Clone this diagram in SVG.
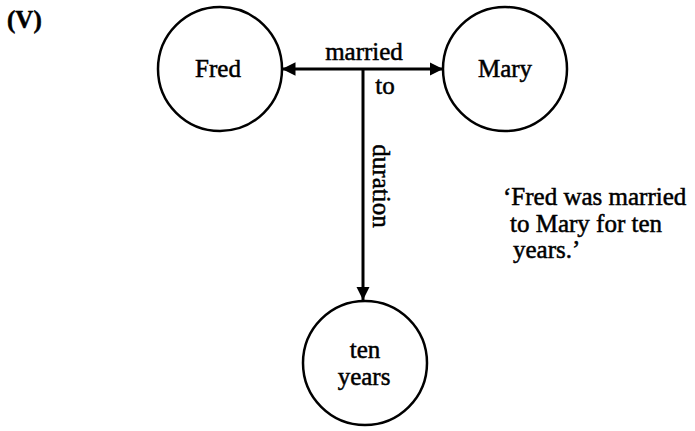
<svg xmlns="http://www.w3.org/2000/svg" width="695" height="431" viewBox="0 0 695 431">
<style>
.n{fill:none;stroke:#000;stroke-width:2.5}
.t{font-family:"Liberation Serif","Times New Roman",serif;font-size:25px;fill:#000;stroke:#000;stroke-width:0.5}
.c{stroke:#000;stroke-width:3;fill:none}
</style>
<defs>
<marker id="ah" viewBox="0 0 10 10" refX="10" refY="5" markerWidth="4.5" markerHeight="4.5" orient="auto-start-reverse" markerUnits="strokeWidth">
<path d="M0,0 L10,5 L0,10 z" fill="#000"/>
</marker>
</defs>
<rect width="695" height="431" fill="#fff"/>
<text class="t" x="7" y="28" font-weight="bold" font-size="23">(V)</text>
<g id="fred"><circle class="n" cx="220" cy="69" r="62"/><text class="t" x="218" y="77" text-anchor="middle">Fred</text></g>
<g id="mary"><circle class="n" cx="505" cy="69" r="62"/><text class="t" x="505" y="77" text-anchor="middle">Mary</text></g>
<g id="tenyears"><circle class="n" cx="365" cy="363" r="62"/><text class="t" x="365" y="358" text-anchor="middle">ten</text><text class="t" x="364" y="385" text-anchor="middle">years</text></g>
<g id="connectors">
<path class="c" d="M282,69 L443,69" marker-start="url(#ah)" marker-end="url(#ah)"/>
<path class="c" d="M363,69 L363,300" marker-end="url(#ah)"/>
<text class="t" x="364" y="60" text-anchor="middle">married</text>
<text class="t" x="385" y="94" text-anchor="middle">to</text>
<text class="t" transform="translate(373,186) rotate(90)" text-anchor="middle">duration</text>
</g>
<g id="caption">
<text class="t" x="503" y="205">‘Fred was married</text>
<text class="t" x="510" y="232">to Mary for ten</text>
<text class="t" x="513" y="258">years.’</text>
</g>
</svg>
